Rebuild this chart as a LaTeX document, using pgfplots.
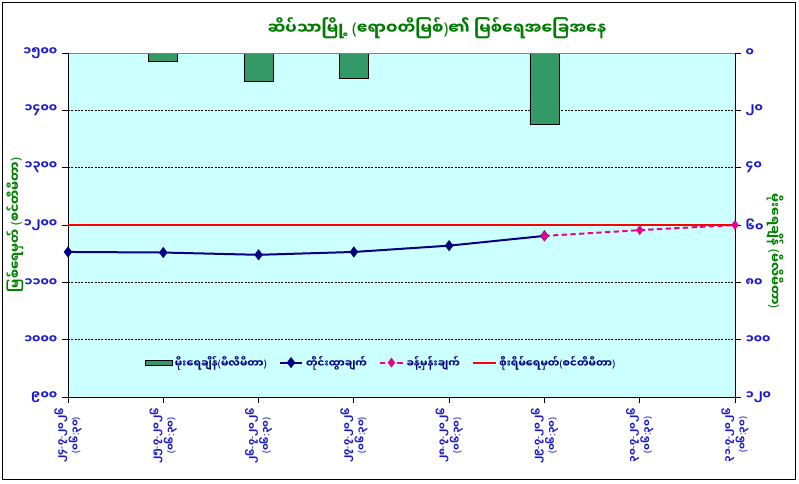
\documentclass[border=0pt]{standalone}
\usepackage{fontspec}
\setmainfont[Script=Myanmar]{Noto Sans Myanmar UI}
\newfontfamily\latfont{Noto Sans}
\usepackage{pgfplots}
\pgfplotsset{compat=1.18}
\definecolor{plotbg}{HTML}{CCFFFF}
\definecolor{bargreen}{HTML}{339966}
\definecolor{navyline}{HTML}{000080}
\definecolor{ticktext}{HTML}{1A1ACC}
\definecolor{labelgreen}{HTML}{008000}
\definecolor{titlegreen}{HTML}{007A00}
\newcommand\LP{{\latfont(}}
\newcommand\RP{{\latfont)}}
\newcommand\HY{{\latfont-}}
\newcommand\CL{{\latfont:}}
\newcommand\dlab[1]{#1\HY ၇\HY ၂၀၂၆\\\LP ၀၆\CL ၃၀\RP}
\begin{document}
\begin{tikzpicture}
\useasboundingbox (0,0) rectangle (599.25pt,362.25pt);
\fill[white] (0,0) rectangle (599.25pt,362.25pt);
\draw[black,line width=0.75pt] (2pt,3pt) rectangle (596.5pt,360pt);
\node[font=\fontsize{12}{14}\selectfont\bfseries, text=titlegreen] at (327.75pt,341.25pt)
 {ဆိပ်သာမြို့ \LP ဧရာဝတီမြစ်\RP ၏ မြစ်ရေအခြေအနေ};
% rainfall axis (right, reversed)
\begin{axis}[
 at={(51pt,64.5pt)}, anchor=south west,
 width=500.25pt, height=258pt, scale only axis,
 xmin=0, xmax=7, ymin=0, ymax=120, y dir=reverse,
 axis background/.style={fill=plotbg},
 axis x line*=bottom, axis y line*=right,
 axis line style={-, black, line width=0.6pt},
 xtick={0,...,7},
 xticklabels={\dlab{၂၄},\dlab{၂၅},\dlab{၂၆},\dlab{၂၇},\dlab{၂၈},\dlab{၂၉},\dlab{၃၀},\dlab{၃၁}},
 ytick={0,20,...,120},
 yticklabels={၀,၂၀,၄၀,၆၀,၈၀,၁၀၀,၁၂၀},
 tick align=outside, major tick length=4.5pt,
 tick style={black, line width=0.6pt},
 ymajorgrids, grid style={black, dash pattern=on 1.5pt off 1pt, line width=0.5pt},
 xticklabel style={rotate=90, anchor=east, align=center, font=\fontsize{7.3}{8.6}\selectfont\bfseries, text=ticktext},
 yticklabel style={font=\fontsize{9}{10}\selectfont\bfseries, text=ticktext},
 ylabel={မိုးရေချိန် \LP မီလီမီတာ\RP},
 every axis y label/.style={at={(axis description cs:1.06,0.424)}, anchor=center, rotate=-90, font=\fontsize{9.5}{11}\selectfont\bfseries, text=labelgreen},
]
\addplot[ybar, bar width=21.75pt, bar shift=0pt, fill=bargreen, draw=black, line width=0.5pt]
 coordinates {(1,2.8) (2,9.8) (3,8.8) (5,24.9)};
\draw[gray, line width=0.8pt] (axis description cs:0,1) -- (axis description cs:1,1);
\end{axis}
% water level axis (left)
\begin{axis}[
 at={(51pt,64.5pt)}, anchor=south west,
 width=500.25pt, height=258pt, scale only axis,
 xmin=0, xmax=7, ymin=900, ymax=1500,
 axis x line=none, axis y line*=left,
 axis line style={-, black, line width=0.6pt},
 ytick={900,1000,...,1500},
 yticklabels={၉၀၀,၁၀၀၀,၁၁၀၀,၁၂၀၀,၁၃၀၀,၁၄၀၀,၁၅၀၀},
 tick align=outside, major tick length=4.5pt,
 tick style={black, line width=0.6pt},
 yticklabel style={font=\fontsize{9}{10}\selectfont\bfseries, text=ticktext},
 ylabel={မြစ်ရေမှတ် \LP စင်တီမီတာ\RP},
 every axis y label/.style={at={(axis description cs:-0.0795,0.5)}, anchor=center, rotate=90, font=\fontsize{9.5}{11}\selectfont\bfseries, text=labelgreen},
 clip=false,
 legend columns=4,
 legend style={draw=none, fill=none, at={(0.47,0.10)}, anchor=center,
   font=\fontsize{7.8}{9}\selectfont\bfseries,
   /tikz/every even column/.append style={column sep=7pt}},
]
\addlegendimage{legend image code/.code={\draw[fill=bargreen,draw=black,line width=0.5pt] (0pt,-2pt) rectangle (20pt,2pt);}}
\addlegendentry{\textcolor{navyline}{မိုးရေချိန်\LP မီလီမီတာ\RP}}
\addplot[navyline, line width=1.5pt, mark=diamond*, mark size=3pt, mark options={fill=navyline}]
 coordinates {(0,1153) (1,1152) (2,1148) (3,1153) (4,1164) (5,1181)};
\addlegendentry{\textcolor{navyline}{တိုင်းထွာချက်}}
\addplot[magenta, line width=1.5pt, dash pattern=on 4pt off 2.5pt, mark=diamond*, mark size=2.5pt, mark options={solid, fill=magenta}]
 coordinates {(5,1181) (6,1191) (7,1200)};
\addlegendentry{\textcolor{navyline}{ခန့်မှန်းချက်}}
\addplot[red, line width=1.5pt] coordinates {(0,1200) (7,1200)};
\addlegendentry{\textcolor{navyline}{စိုးရိမ်ရေမှတ်\LP စင်တီမီတာ\RP}}
\end{axis}
\end{tikzpicture}
\end{document}
